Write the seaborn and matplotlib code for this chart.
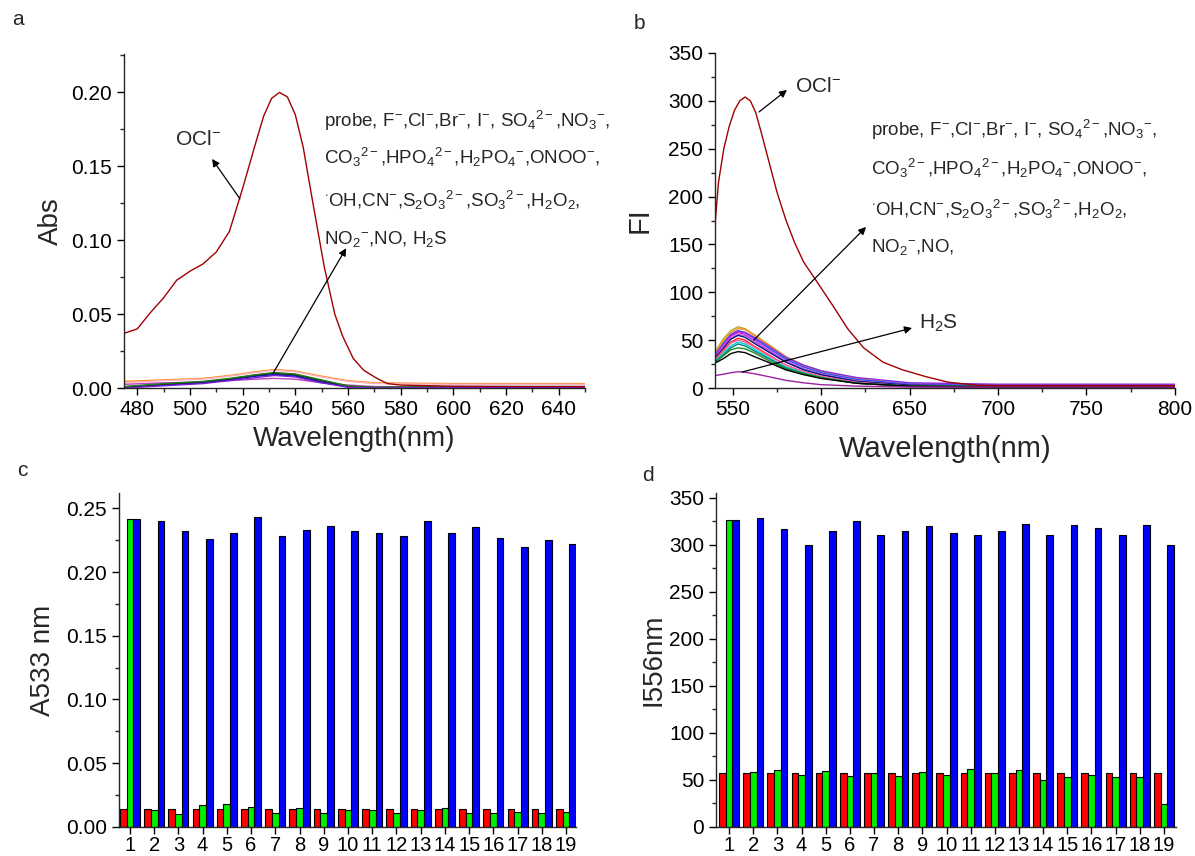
import matplotlib
matplotlib.use("Agg")
import matplotlib.pyplot as plt
from matplotlib.ticker import MultipleLocator, FormatStrFormatter
import pandas as pd
import seaborn as sns

# ---------------- panel a : absorption spectra ----------------
wl_a_ocl = [475, 480, 485, 490, 495, 500, 505, 510, 515, 520, 525, 528, 531, 534, 537,
            540, 543, 547, 551, 555, 558, 562, 566, 571, 575, 580, 600, 625, 650]
abs_ocl = [0.037, 0.040, 0.051, 0.061, 0.073, 0.079, 0.084, 0.092, 0.106, 0.135, 0.166,
           0.184, 0.196, 0.200, 0.197, 0.185, 0.163, 0.122, 0.082, 0.050, 0.035, 0.020,
           0.012, 0.0065, 0.003, 0.002, 0.0012, 0.001, 0.001]

wl_a = [475, 490, 505, 515, 525, 532, 540, 550, 560, 570, 600, 650]
abs_orange = [0.0045, 0.0055, 0.0065, 0.0085, 0.011, 0.0125, 0.0115, 0.008, 0.005, 0.0035, 0.003, 0.003]
abs_pink = [0.0035, 0.005, 0.006, 0.008, 0.0105, 0.012, 0.011, 0.0075, 0.0045, 0.003, 0.0025, 0.0025]
abs_green = [0.001, 0.003, 0.0045, 0.0065, 0.009, 0.0105, 0.0095, 0.0055, 0.0015, 0.0005, 0.001, 0.001]
abs_teal = [0.0005, 0.0025, 0.004, 0.006, 0.0085, 0.0095, 0.0085, 0.0045, 0.001, 0.0002, 0.0005, 0.0005]
abs_black = [0.0008, 0.0025, 0.0042, 0.006, 0.0088, 0.010, 0.009, 0.005, 0.0012, 0.0003, 0.0006, 0.0006]
abs_navy = [0.0005, 0.002, 0.0035, 0.0055, 0.008, 0.009, 0.008, 0.004, 0.0008, 0.0, 0.0003, 0.0003]
abs_violet = [0.0025, 0.0035, 0.004, 0.005, 0.006, 0.0065, 0.006, 0.0035, 0.002, 0.001, 0.0005, 0.0005]
abs_purple = [0.0, 0.0015, 0.003, 0.005, 0.007, 0.0085, 0.0075, 0.0035, 0.0005, 0.0, 0.0003, 0.0003]

# ---------------- panel b : fluorescence spectra ----------------
wl_b_ocl = [540, 542, 545, 548, 551, 554, 557, 560, 563, 566, 570, 575, 580, 585, 590,
            598, 607, 615, 624, 635, 646, 659, 672, 688, 700, 800]
fi_ocl = [170, 215, 250, 273, 290, 300, 304, 300, 288, 268, 240, 205, 176, 152, 132,
          110, 85, 62, 42, 27, 19, 12, 6, 3, 2.5, 2.5]

wl_b = [540, 545, 549, 553, 557, 562, 570, 580, 590, 600, 620, 650, 700, 800]
fi_olive = [38, 52, 60, 64, 62, 56, 46, 33, 24, 18, 10, 4.5, 3, 3]
fi_orange = [37, 50, 58, 62, 61, 55, 45, 32, 23, 17, 9.5, 4.5, 3, 3]
fi_gray = [35, 48, 56, 59, 58, 53, 43, 31, 22, 16.5, 9, 4, 3, 3]
fi_blue = [35, 47, 56, 60, 58, 52, 42, 30, 22, 16, 9, 4, 3, 3]
fi_purple = [34, 46, 55, 59, 58, 53, 44, 32, 24, 18, 11, 5.5, 4, 4]
fi_magenta = [33, 45, 54, 58, 56, 50, 40, 28, 20, 14, 7, 3, 2, 2]
fi_violet = [32, 44, 52, 56, 55, 49, 39, 28, 20, 14.5, 7.5, 3, 2.5, 2.5]
fi_navy = [31, 42, 51, 55, 53, 47, 38, 27, 19, 14, 7, 3, 2, 2]
fi_red = [30, 40, 48, 52, 50, 44, 35, 24, 17, 12, 5, 1.5, 1, 1]
fi_pink = [29, 39, 47, 50, 48, 43, 34, 24, 17, 12, 6, 2, 1, 1]
fi_cyan = [28, 37, 44, 48, 46, 41, 32, 22, 16, 11, 5, 2, 1.5, 1.5]
fi_teal = [27, 35, 42, 46, 44, 39, 31, 21, 15, 10.5, 5, 2, 1.5, 1.5]
fi_green = [27, 34, 40, 42, 41, 37, 29, 20, 15, 11, 5, 2, 1.5, 1.5]
fi_black = [26, 31, 36, 38, 37, 33, 27, 19, 14, 10, 5, 2, 1, 1]
fi_h2s = [13, 14.5, 16, 17, 16.5, 15, 12, 8, 5.5, 3.5, 2, 1, 1, 1]

# ---------------- panels c, d : bar charts ----------------
ions = [str(i) for i in range(1, 20)]
a533_probe = [0.014] * 19
a533_ion = [0.242, 0.013, 0.010, 0.017, 0.018, 0.016, 0.011, 0.015, 0.011, 0.013,
            0.013, 0.011, 0.013, 0.015, 0.011, 0.011, 0.012, 0.011, 0.012]
a533_ocl = [0.242, 0.240, 0.232, 0.226, 0.231, 0.243, 0.228, 0.233, 0.236, 0.232,
            0.231, 0.228, 0.240, 0.231, 0.235, 0.227, 0.220, 0.225, 0.222]
i556_probe = [57] * 19
i556_ion = [326, 58, 60, 55, 59, 54, 57, 54, 58, 55, 62, 57, 60, 50, 53, 55, 53, 53, 24]
i556_ocl = [326, 328, 317, 300, 315, 325, 310, 315, 320, 313, 310, 315, 322, 310,
            321, 318, 310, 321, 300]

sns.set_style("ticks")
plt.rcParams["font.family"] = ["Liberation Sans", "DejaVu Sans"]
plt.rcParams["mathtext.fontset"] = "custom"
plt.rcParams["mathtext.rm"] = "Liberation Sans"
plt.rcParams["mathtext.it"] = "Liberation Sans:italic"
plt.rcParams["mathtext.bf"] = "Liberation Sans:bold"
plt.rcParams["axes.linewidth"] = 1.0

fig = plt.figure(figsize=(11.95, 8.56), dpi=100)
ax_a = fig.add_axes([0.1038, 0.5467, 0.3858, 0.3902])
ax_b = fig.add_axes([0.5983, 0.5467, 0.3849, 0.3914])
ax_c = fig.add_axes([0.0992, 0.0340, 0.3828, 0.3900])
ax_d = fig.add_axes([0.5992, 0.0340, 0.3849, 0.3900])


def style_axis(ax):
    sns.despine(ax=ax)
    ax.tick_params(axis="both", which="major", direction="out", length=5, width=1,
                   labelsize=15, colors="black")
    ax.tick_params(axis="both", which="minor", direction="out", length=3, width=1)


arrow_kw = dict(arrowstyle="-|>", color="black", lw=0.9, mutation_scale=11,
                shrinkA=0, shrinkB=0)
txt_kw = dict(fontsize=13.5, ha="left", va="center")

lines1 = r"probe, F$^{-}$,Cl$^{-}$,Br$^{-}$, I$^{-}$, SO$_{4}$$^{2-}$,NO$_{3}$$^{-}$,"
lines2 = r"CO$_{3}$$^{2-}$,HPO$_{4}$$^{2-}$,H$_{2}$PO$_{4}$$^{-}$,ONOO$^{-}$,"
lines3 = r"$^{\cdot}$OH,CN$^{-}$,S$_{2}$O$_{3}$$^{2-}$,SO$_{3}$$^{2-}$,H$_{2}$O$_{2}$,"

# ---- a ----
low_a = [(abs_orange, "#FF8C1A"), (abs_pink, "#FFB3C6"), (abs_violet, "#C040C0"),
         (abs_teal, "#008B8B"), (abs_navy, "#1010B0"), (abs_black, "#202020"),
         (abs_green, "#1E7B1E"), (abs_purple, "#7B1FE0")]
for vals, col in low_a:
    sns.lineplot(x=wl_a, y=vals, color=col, lw=1.0, ax=ax_a)
sns.lineplot(x=wl_a_ocl, y=abs_ocl, color="#A00000", lw=1.0, ax=ax_a)
ax_a.set_xlim(475, 650)
ax_a.set_ylim(0, 0.226)
ax_a.xaxis.set_major_locator(MultipleLocator(20))
ax_a.xaxis.set_minor_locator(MultipleLocator(10))
ax_a.yaxis.set_major_locator(MultipleLocator(0.05))
ax_a.yaxis.set_minor_locator(MultipleLocator(0.025))
ax_a.yaxis.set_major_formatter(FormatStrFormatter("%.2f"))
style_axis(ax_a)
ax_a.set_xlabel("Wavelength(nm)", fontsize=20)
ax_a.set_ylabel("Abs", fontsize=20)
ax_a.xaxis.set_label_coords(0.5, -0.115)
ax_a.yaxis.set_label_coords(-0.13, 0.5)
ax_a.text(503, 0.168, r"OCl$^{-}$", fontsize=15, ha="center", va="center")
ax_a.annotate("", xy=(508.4, 0.155), xytext=(519.0, 0.128), arrowprops=arrow_kw)
ax_a.annotate("", xy=(559.3, 0.0946), xytext=(531.6, 0.0101), arrowprops=arrow_kw)
ax_a.text(550.9, 0.181, lines1, clip_on=False, **txt_kw)
ax_a.text(550.9, 0.156, lines2, **txt_kw)
ax_a.text(550.9, 0.127, lines3, **txt_kw)
ax_a.text(550.9, 0.101, r"NO$_{2}$$^{-}$,NO, H$_{2}$S", **txt_kw)

# ---- b ----
low_b = [(fi_olive, "#B8A830"), (fi_orange, "#FF9020"), (fi_gray, "#A0A0A0"),
         (fi_blue, "#3050FF"), (fi_purple, "#8A2BE2"), (fi_magenta, "#E020E0"),
         (fi_violet, "#B060E0"), (fi_navy, "#101080"), (fi_red, "#FF2020"),
         (fi_pink, "#FF60A0"), (fi_cyan, "#00D0D0"), (fi_teal, "#008080"),
         (fi_green, "#1E8C1E"), (fi_black, "#000000")]
for vals, col in low_b:
    sns.lineplot(x=wl_b, y=vals, color=col, lw=1.0, ax=ax_b)
sns.lineplot(x=wl_b, y=fi_h2s, color="#A020A0", lw=1.0, ax=ax_b)
sns.lineplot(x=wl_b_ocl, y=fi_ocl, color="#A00000", lw=1.0, ax=ax_b)
ax_b.set_xlim(540, 800)
ax_b.set_ylim(0, 350)
ax_b.xaxis.set_major_locator(MultipleLocator(50))
ax_b.xaxis.set_minor_locator(MultipleLocator(25))
ax_b.yaxis.set_major_locator(MultipleLocator(50))
ax_b.yaxis.set_minor_locator(MultipleLocator(25))
style_axis(ax_b)
ax_b.set_xlabel("Wavelength(nm)", fontsize=21)
ax_b.set_ylabel("FI", fontsize=21)
ax_b.xaxis.set_label_coords(0.5, -0.14)
ax_b.yaxis.set_label_coords(-0.133, 0.5)
ax_b.annotate("", xy=(580.7, 311.4), xytext=(564.9, 288.4), arrowprops=arrow_kw)
ax_b.text(585.2, 314.5, r"OCl$^{-}$", fontsize=15, ha="left", va="center")
ax_b.annotate("", xy=(625.4, 168.2), xytext=(562.0, 50.2), arrowprops=arrow_kw)
ax_b.annotate("", xy=(651.4, 62.7), xytext=(555.3, 16.7), arrowprops=arrow_kw)
ax_b.text(655.3, 68, r"H$_{2}$S", fontsize=15, ha="left", va="center")
ax_b.text(628.2, 269.6, lines1, **txt_kw)
ax_b.text(628.2, 229.9, lines2, **txt_kw)
ax_b.text(628.2, 187.0, lines3, **txt_kw)
ax_b.text(628.2, 147.3, r"NO$_{2}$$^{-}$,NO,", **txt_kw)

# ---- c, d ----
bar_colors = ["#FF0000", "#00EE00", "#0000FF"]


def bar_panel(ax, probe, ion, ocl):
    df = pd.DataFrame({
        "ion": ions * 3,
        "value": probe + ion + ocl,
        "series": ["probe"] * 19 + ["ion"] * 19 + ["ocl"] * 19,
    })
    sns.barplot(data=df, x="ion", y="value", hue="series", order=ions,
                hue_order=["probe", "ion", "ocl"], palette=bar_colors, saturation=1,
                width=0.83, edgecolor="black", linewidth=0.8, legend=False, ax=ax)
    style_axis(ax)
    ax.tick_params(axis="x", which="major", pad=1.5, labelsize=14.5)
    ax.set_xlabel("")


bar_panel(ax_c, a533_probe, a533_ion, a533_ocl)
ax_c.set_xlim(-0.47, 18.41)
ax_c.set_ylim(0, 0.262)
ax_c.yaxis.set_major_locator(MultipleLocator(0.05))
ax_c.yaxis.set_minor_locator(MultipleLocator(0.025))
ax_c.yaxis.set_major_formatter(FormatStrFormatter("%.2f"))
ax_c.set_ylabel("A533 nm", fontsize=20)
ax_c.yaxis.set_label_coords(-0.137, 0.5)

bar_panel(ax_d, i556_probe, i556_ion, i556_ocl)
ax_d.set_xlim(-0.54, 18.5)
ax_d.set_ylim(0, 355)
ax_d.yaxis.set_major_locator(MultipleLocator(50))
ax_d.yaxis.set_minor_locator(MultipleLocator(25))
ax_d.set_ylabel("I556nm", fontsize=20)
ax_d.yaxis.set_label_coords(-0.107, 0.5)

# panel letters
fig.text(0.010, 0.977, "a", fontsize=15, va="center")
fig.text(0.5305, 0.973, "b", fontsize=15, va="center")
fig.text(0.0142, 0.450, "c", fontsize=15, va="center")
fig.text(0.537, 0.445, "d", fontsize=15, va="center")

fig.savefig("out.png", dpi=100)
